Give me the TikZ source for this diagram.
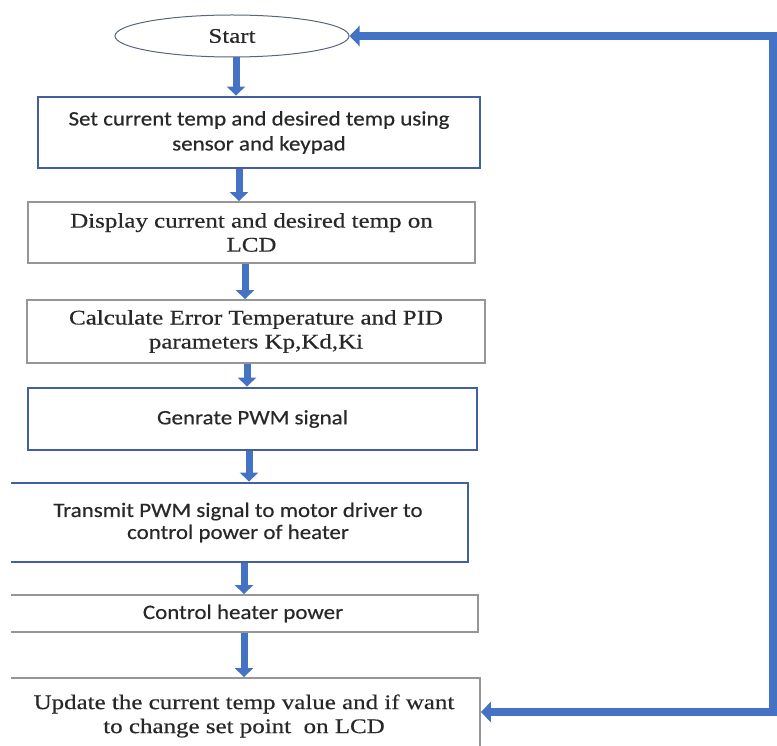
\documentclass[tikz,border=0pt]{standalone}
\usepackage{fontspec}
\setmainfont{Liberation Serif}[FakeStretch=1.2,FakeBold=0.4]
\newfontfamily\sanstxt{Carlito}[FakeStretch=1.12,FakeBold=0.4]
\usetikzlibrary{arrows.meta,shapes.geometric}
\definecolor{arrowblue}{RGB}{68,114,196}
\definecolor{boxblue}{RGB}{66,96,160}
\definecolor{boxgray}{RGB}{150,150,150}
\definecolor{ellgray}{RGB}{90,100,125}
\definecolor{txtgray}{RGB}{40,40,40}
\begin{document}
\begin{tikzpicture}[x=1pt,y=-1pt,
  boxbase/.style={rectangle, inner sep=0pt, align=center, fill=white, text=txtgray},
  bluebox/.style={boxbase, draw=boxblue, line width=2.8pt},
  graybox/.style={boxbase, draw=boxgray, line width=1.8pt},
  serif/.style={font=\fontsize{20.8}{24}\selectfont},
  sans/.style={font=\sanstxt\fontsize{20.5}{25}\selectfont},
  sanstight/.style={font=\sanstxt\fontsize{20.5}{22}\selectfont},
  flow/.style={draw=arrowblue, line width=7pt, -{Triangle[width=18pt,length=9pt]}},
  loopflow/.style={draw=arrowblue, line width=8pt, -{Triangle[width=20pt,length=10pt]}},
  loopline/.style={draw=arrowblue, line width=8pt, line cap=rect},
]
\useasboundingbox (0,0) rectangle (777,746);
\clip (11,0) rectangle (777,746);

\node[ellipse, draw=ellgray, line width=1pt, fill=white, text=txtgray, minimum width=234pt, minimum height=42pt, inner sep=0pt, serif] (start) at (232,36) {Start};

\node[bluebox, sans, minimum width=442pt, minimum height=71pt] (b1) at (259,132.5)
  {Set current temp and desired temp using\\sensor and keypad};
\node[graybox, serif, minimum width=447pt, minimum height=61pt] (b2) at (251.5,232.5)
  {Display current and desired temp on\\LCD};
\node[graybox, serif, minimum width=458pt, minimum height=63pt] (b3) at (256,331.5)
  {Calculate Error Temperature and PID\\parameters Kp,Kd,Ki};
\node[bluebox, sans, minimum width=449pt, minimum height=62pt] (b4) at (252.5,419)
  {Genrate PWM signal};
\node[bluebox, sanstight, minimum width=460pt, minimum height=79pt] (b5) at (238,522.5)
  {Transmit PWM signal to motor driver to\\control power of heater};
\node[graybox, sans, minimum width=470pt, minimum height=37pt] (b6) at (243,613.5)
  {Control heater power};
\node[graybox, serif, minimum width=472pt, minimum height=76pt] (b7) at (244,716)
  {Update the current temp value and if want\\to change set point \ on LCD};

\draw[flow] ([xshift=4pt]start.south) -- ([xshift=4pt]start.south |- b1.north);
\draw[flow] ([xshift=-20pt]b1.south) -- ([xshift=-20pt]b1.south |- b2.north);
\draw[flow] ([xshift=-6.5pt]b2.south) -- ([xshift=-6.5pt]b2.south |- b3.north);
\draw[flow] ([xshift=-9pt]b3.south) -- ([xshift=-9pt]b3.south |- b4.north);
\draw[flow] ([xshift=-3.5pt]b4.south) -- ([xshift=-3.5pt]b4.south |- b5.north);
\draw[flow] ([xshift=6pt]b5.south) -- ([xshift=6pt]b5.south |- b6.north);
\draw[flow] ([xshift=1pt]b6.south) -- ([xshift=1pt]b6.south |- b7.north);

\coordinate (lt) at (773,36);
\coordinate (lb) at (773,712);
\draw[loopline] (lb) -- (lt);
\draw[loopflow] (lt) -- (start.east);
\draw[loopflow] (lb) -- (lb -| b7.east);
\end{tikzpicture}
\end{document}
